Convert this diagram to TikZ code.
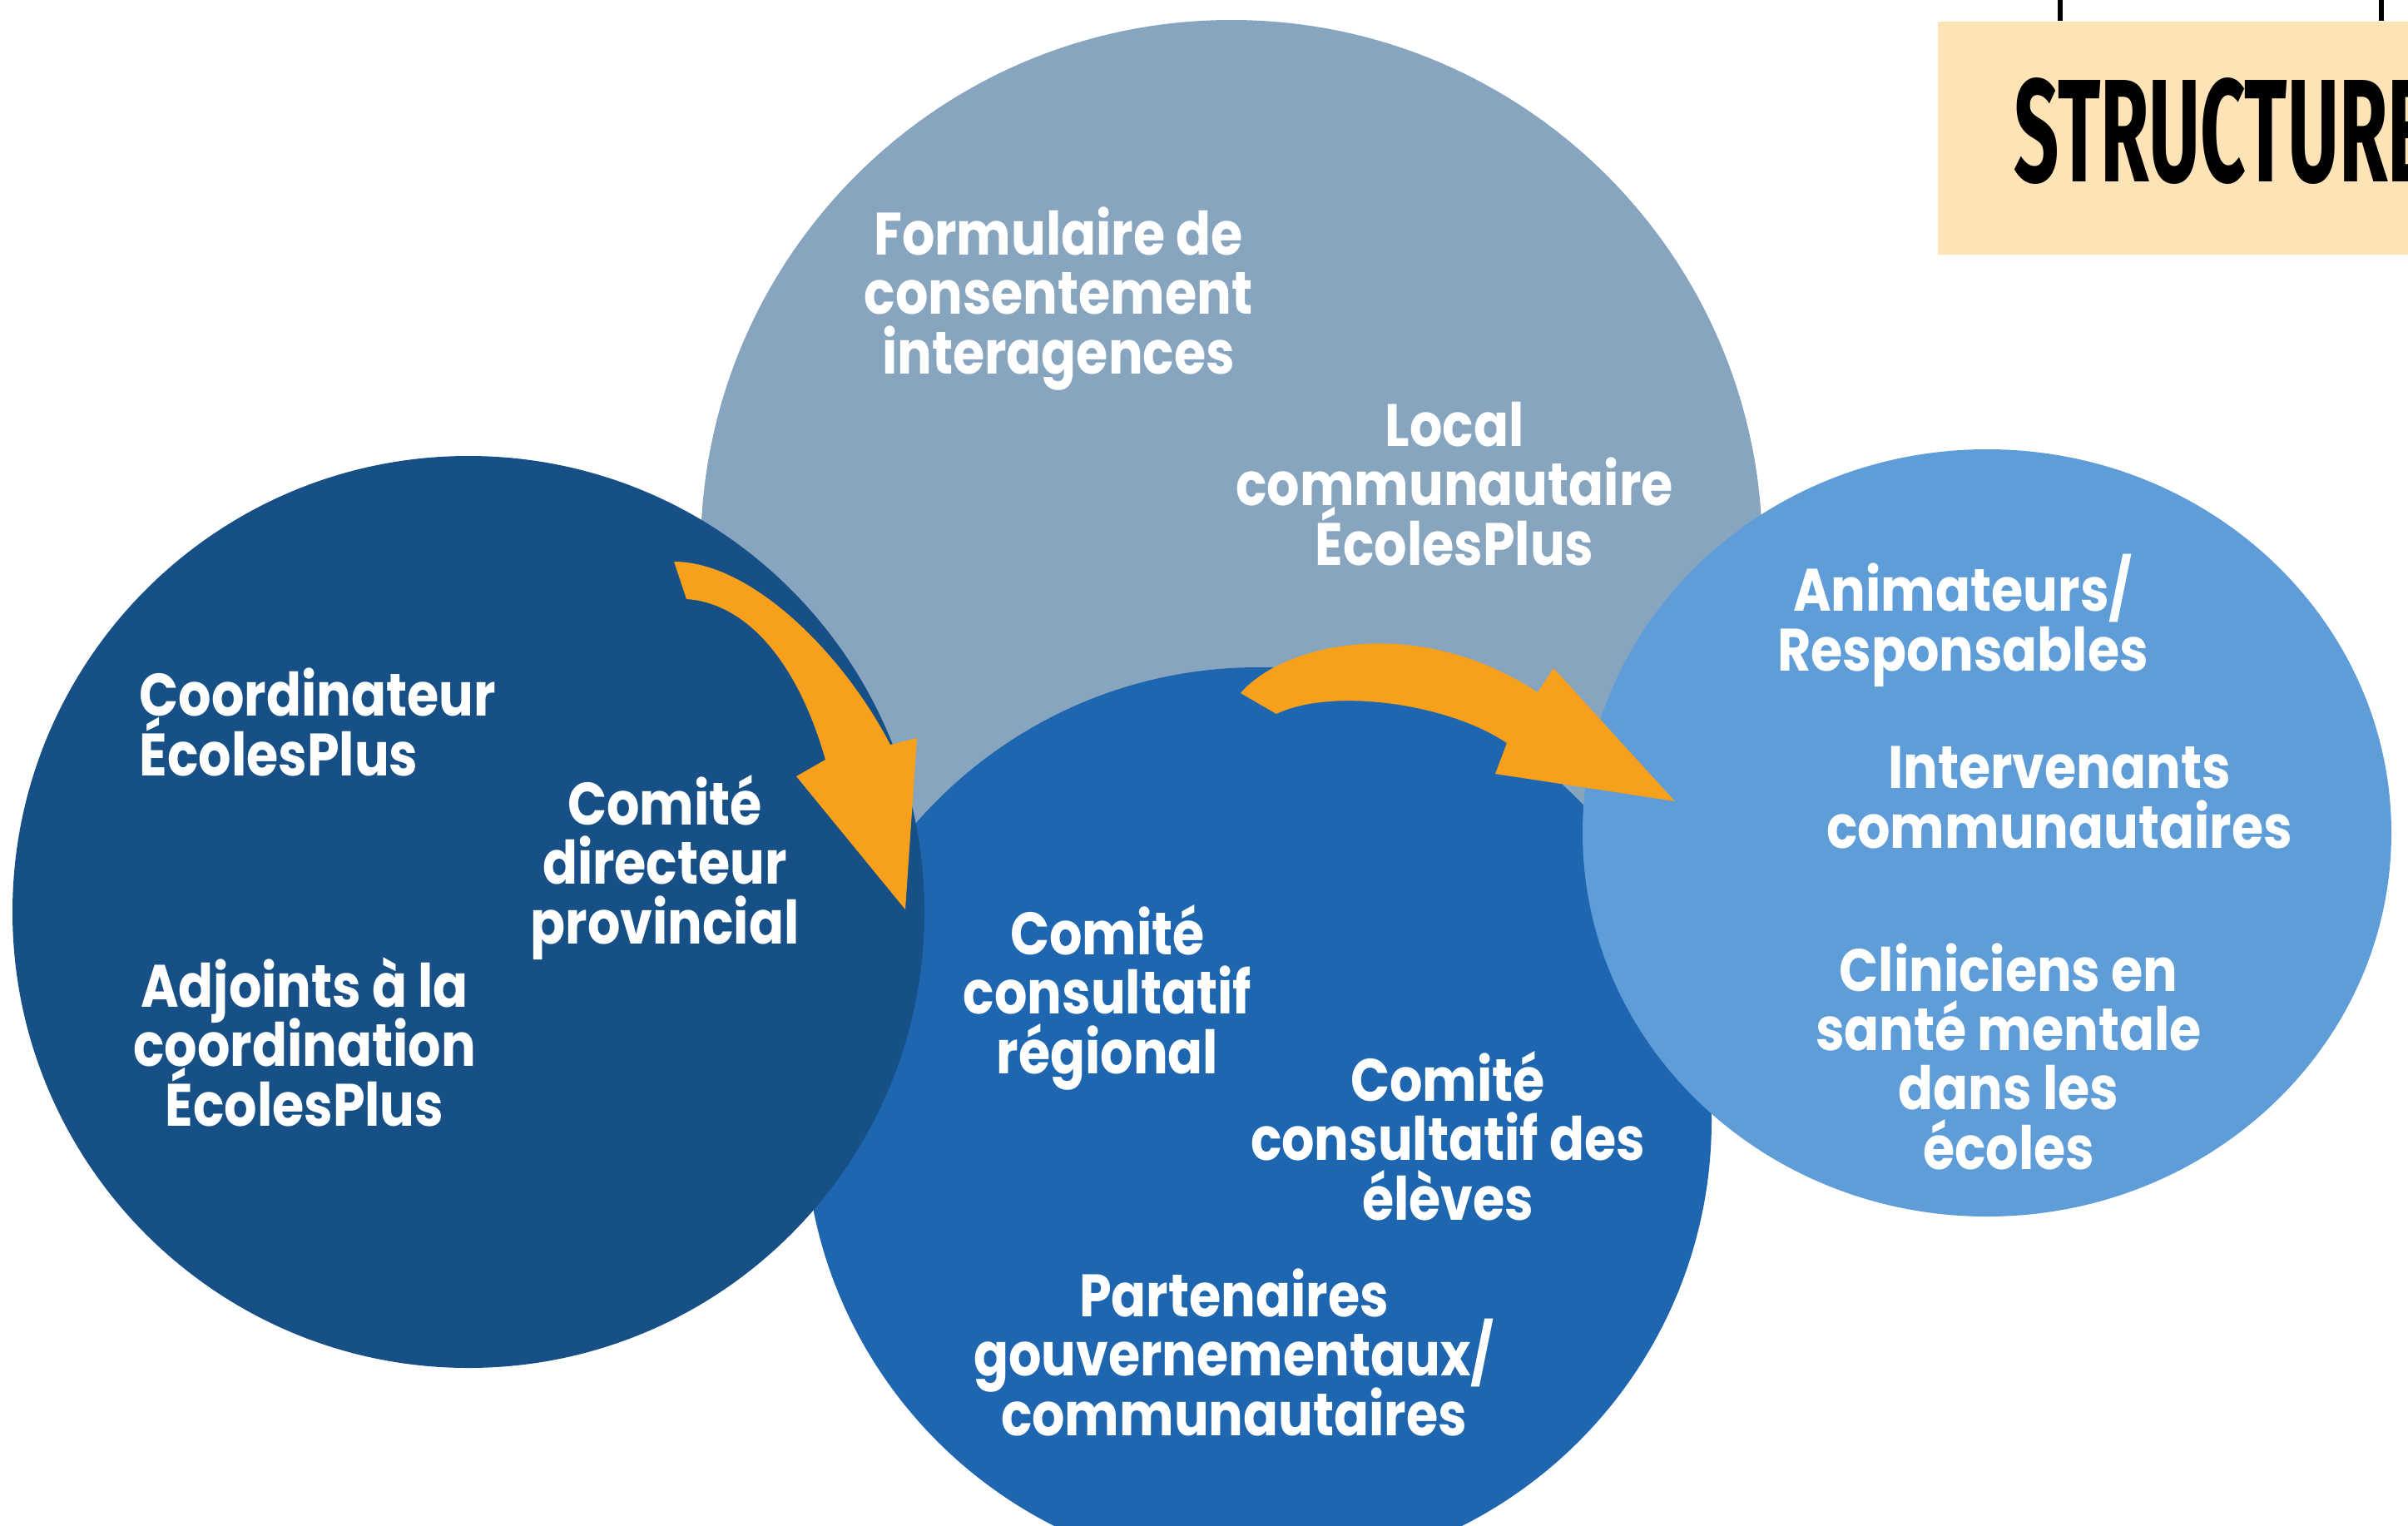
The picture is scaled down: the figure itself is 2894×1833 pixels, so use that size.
\documentclass[tikz,border=0pt]{standalone}
\usepackage{fontspec}
\usepackage{graphicx}
\setmainfont{Poppins}[FakeStretch=0.86]
\newfontfamily\titlefont{Fira Sans}
\usetikzlibrary{shapes.geometric}
\definecolor{topc}{RGB}{136,165,192}
\definecolor{leftc}{RGB}{23,79,135}
\definecolor{midc}{RGB}{30,102,176}
\definecolor{rightc}{RGB}{94,157,215}
\definecolor{orangec}{RGB}{246,160,27}
\definecolor{boxc}{RGB}{253,227,181}
\newcommand\lblfont{\bfseries\fontsize{18}{17.8}\selectfont\lineskiplimit=-100pt\lineskip=0pt}
\tikzset{
  lbl/.style={text=white, font=\lblfont, align=center, inner sep=0pt, anchor=base},
  disc/.style={circle, inner sep=0pt, draw=none},
  arrowshape/.style={fill=orangec},
  hang/.style={line width=1.5pt, black}
}
\begin{document}
\begin{tikzpicture}[x=0.25pt,y=-0.25pt]
\useasboundingbox (0,0) rectangle (2894,1833);
\fill[white] (0,0) rectangle (2894,1833);
\begin{scope}
\clip (0,0) rectangle (2894,1833);
% circles
\node[disc, fill=topc, minimum size=319pt] (ctop) at (1480,662) {};
\node[disc, fill=midc, minimum size=272.5pt] (cmid) at (1512,1347) {};
\node[disc, fill=leftc, minimum size=274pt] (cleft) at (563,1096) {};
\node[ellipse, inner sep=0pt, fill=rightc, minimum width=243pt, minimum height=230.5pt] (cright) at (2388,1001) {};
% arrows
\fill[arrowshape] (810,675) .. controls (900,675) and (1010,780) .. (1070,895)
  -- (1102,887) -- (1088,1093) -- (957,933) -- (992,913)
  .. controls (960,800) and (900,725) .. (825,720) -- cycle;
\fill[arrowshape] (1491,833) .. controls (1540,775) and (1700,735) .. (1848,832)
  -- (1867,803) -- (2013,963) -- (1797,930) -- (1811,893)
  .. controls (1740,845) and (1600,826) .. (1534,858) -- cycle;
% texts (anchor = baseline of the last line)
\node[lbl] (t1) at (1272,449) {Formulaire de\\consentement\\interagences};
\node[lbl] (t2) at (1748,679) {Local\\communautaire\\ÉcolesPlus};
\node[lbl, align=left, anchor=base west] (l1) at (167,932) {Coordinateur\\ÉcolesPlus};
\node[lbl] (l2) at (799,1134) {Comité\\directeur\\provincial};
\node[lbl] (l3) at (366,1353) {Adjoints à la\\coordination\\ÉcolesPlus};
\node[lbl] (m1) at (1331,1290) {Comité\\consultatif\\régional};
\node[lbl] (m2) at (1740,1466) {Comité\\consultatif des\\élèves};
\node[lbl] (m3) at (1483,1725) {Partenaires\\gouvernementaux/\\communautaires};
\node[lbl] (r1) at (2359,806) {Animateurs/\\Responsables};
\node[lbl] (r2) at (2475,1019) {Intervenants\\communautaires};
\node[lbl] (r3) at (2414,1405) {Cliniciens en\\santé mentale\\dans les\\écoles};
% title sign
\draw[hang] (2476,-10) -- (2476,25);
\draw[hang] (2862,-10) -- (2862,25);
\node[fill=boxc, inner sep=0pt, anchor=north west, minimum width=150pt, minimum height=70pt] (sbox) at (2328,25) {};
\node[inner sep=0pt, anchor=base west, text=black] (stitle) at (2420,218)
  {\scalebox{0.54}[1]{\titlefont\bfseries\fontsize{44}{44}\selectfont STRUCTURE}};
\end{scope}
\end{tikzpicture}
\end{document}
